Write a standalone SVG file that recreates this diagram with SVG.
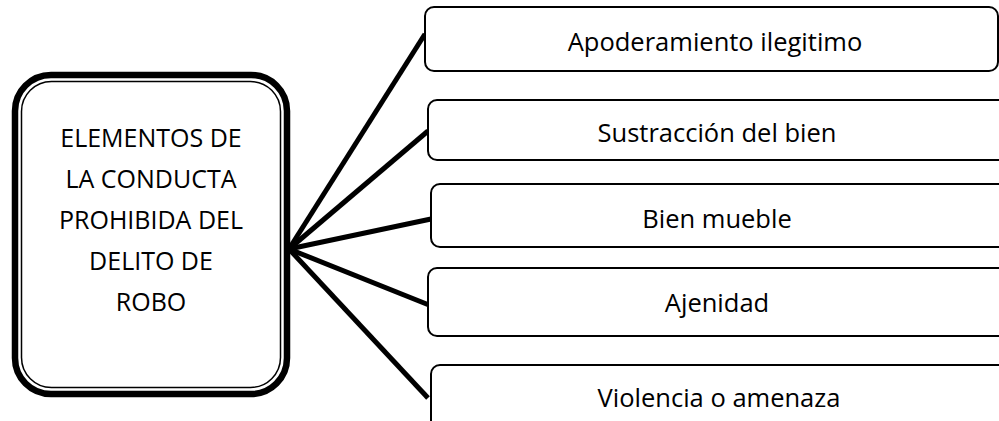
<svg xmlns="http://www.w3.org/2000/svg" width="999" height="421" viewBox="0 0 999 421">
<style>
.box{fill:#fff;stroke:#000;stroke-width:2}
.lbl{font-family:"Open Sans","Liberation Sans",sans-serif;font-size:25.5px;fill:#000;text-anchor:middle}
.ctr{font-family:"Open Sans","Liberation Sans",sans-serif;font-size:25px;fill:#000;text-anchor:middle}
.conn{stroke:#000;stroke-width:5;fill:none;stroke-linecap:butt}
</style>
<rect width="999" height="421" fill="#fff"/>
<g id="connectors">
<line class="conn" x1="289" y1="249" x2="425" y2="34"/>
<line class="conn" x1="289" y1="249" x2="428" y2="131"/>
<line class="conn" x1="289" y1="249" x2="431" y2="219"/>
<line class="conn" x1="289" y1="249" x2="429" y2="305"/>
<line class="conn" x1="289" y1="249" x2="428" y2="398"/>
</g>
<g id="center">
<rect x="15" y="75" width="272" height="319" rx="36" ry="36" fill="#fff" stroke="#000" stroke-width="6.5"/>
<rect x="21.5" y="81.5" width="259" height="306" rx="30" ry="30" fill="none" stroke="#000" stroke-width="1.5"/>
<text class="ctr" x="151" y="147">ELEMENTOS DE</text>
<text class="ctr" x="151" y="188">LA CONDUCTA</text>
<text class="ctr" x="151" y="229">PROHIBIDA DEL</text>
<text class="ctr" x="151" y="270">DELITO DE</text>
<text class="ctr" x="151" y="311">ROBO</text>
</g>
<g id="n1">
<rect class="box" x="425" y="7" width="573" height="64" rx="9"/>
<text class="lbl" x="715" y="51">Apoderamiento ilegitimo</text>
</g>
<g id="n2">
<rect class="box" x="428" y="100" width="590" height="60" rx="9"/>
<text class="lbl" x="717" y="142">Sustracción del bien</text>
</g>
<g id="n3">
<rect class="box" x="431" y="184" width="590" height="63" rx="9"/>
<text class="lbl" x="717" y="228">Bien mueble</text>
</g>
<g id="n4">
<rect class="box" x="428" y="268" width="590" height="68" rx="9"/>
<text class="lbl" x="717" y="312">Ajenidad</text>
</g>
<g id="n5">
<rect class="box" x="431" y="365" width="590" height="70" rx="9"/>
<text class="lbl" x="719" y="407">Violencia o amenaza</text>
</g>
</svg>
